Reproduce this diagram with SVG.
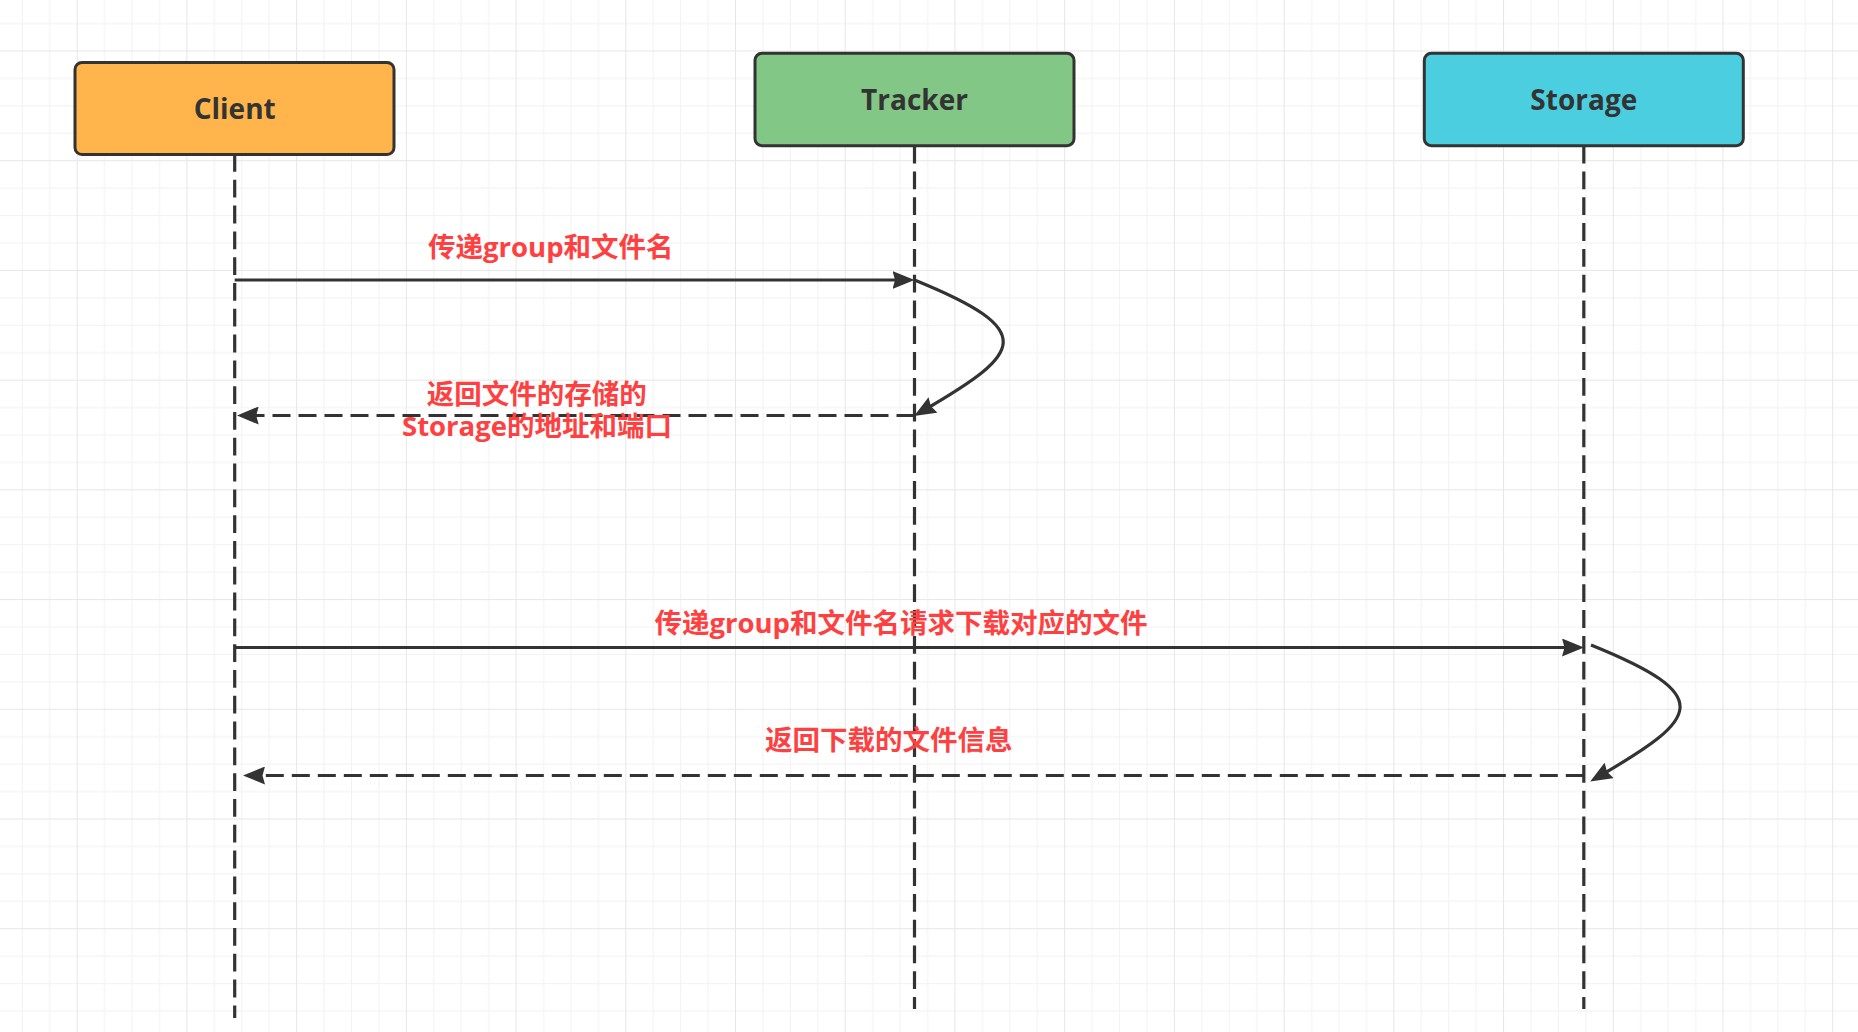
<svg xmlns="http://www.w3.org/2000/svg" width="1858" height="1032" viewBox="0 0 1858 1032">
<style>
.box{stroke:#333;stroke-width:3}
.ntext{font-family:"Open Sans","Noto Sans",sans-serif;font-weight:bold;font-size:28px;fill:#333;text-anchor:middle}
.life{stroke:#333;stroke-width:3.2;stroke-dasharray:17.8 8;fill:none}
.msg{stroke:#333;stroke-width:3.2;fill:none}
.dash{stroke-dasharray:18 8}
.lbl{font-family:"Open Sans","Noto Sans CJK SC",sans-serif;font-weight:bold;font-size:27.5px;fill:#FF4040;text-anchor:middle}
</style>
<defs>
<pattern id="grid" patternUnits="userSpaceOnUse" x="76.7" y="50.5" width="109.72" height="109.72">
<rect x="27.43" y="0" width="1" height="109.72" fill="#f2f2f2"/>
<rect x="54.86" y="0" width="1" height="109.72" fill="#f2f2f2"/>
<rect x="82.29" y="0" width="1" height="109.72" fill="#f2f2f2"/>
<rect x="0" y="27.43" width="109.72" height="1" fill="#f2f2f2"/>
<rect x="0" y="54.86" width="109.72" height="1" fill="#f2f2f2"/>
<rect x="0" y="82.29" width="109.72" height="1" fill="#f2f2f2"/>
<rect x="0" y="0" width="1" height="109.72" fill="#e6e6e6"/>
<rect x="0" y="0" width="109.72" height="1" fill="#e6e6e6"/>
</pattern>
<marker id="arr" markerUnits="userSpaceOnUse" markerWidth="22" markerHeight="18" refX="9" refY="9" orient="auto" viewBox="0 0 22 18">
<path d="M0,0 L22,9 L0,18 L2.5,9 Z" fill="#333"/>
</marker>
</defs>
<rect width="1858" height="1032" fill="#fff"/>
<rect width="1858" height="1032" fill="url(#grid)"/>

<g id="connectors">
<line class="life" x1="234.7" y1="154" x2="234.7" y2="1018"/>
<line class="life" x1="914.5" y1="145.7" x2="914.5" y2="1009"/>
<line class="life" x1="1583.8" y1="145.7" x2="1583.8" y2="1009"/>
<line class="msg" x1="234.7" y1="280" x2="901.5" y2="280" marker-end="url(#arr)"/>
<path class="msg" d="M914.5,280 C1040,331 1022,353 925.3,409.5" marker-end="url(#arr)"/>
<line class="msg dash" x1="914.5" y1="415.5" x2="249.7" y2="415.5" marker-end="url(#arr)"/>
<line class="msg" x1="234.7" y1="647.5" x2="1571" y2="647.5" marker-end="url(#arr)"/>
<path class="msg" d="M1591,645 C1717,696 1699,718 1601.4,775" marker-end="url(#arr)"/>
<line class="msg dash" x1="1583.8" y1="775.5" x2="256" y2="775.5" marker-end="url(#arr)"/>
<text class="lbl" x="550.8" y="257">传递group和文件名</text>
<text class="lbl" x="536.8" y="404">返回文件的存储的</text>
<text class="lbl" x="537" y="436">Storage的地址和端口</text>
<text class="lbl" x="901" y="633">传递group和文件名请求下载对应的文件</text>
<text class="lbl" x="888.8" y="750">返回下载的文件信息</text>
</g>

<g id="client">
<rect class="box" x="75" y="62.5" width="319" height="92" rx="7" fill="#FFB54B"/>
<text class="ntext" x="234.7" y="118.5">Client</text>
</g>
<g id="tracker">
<rect class="box" x="755" y="53.3" width="319" height="92.4" rx="7" fill="#82C785"/>
<text class="ntext" x="914.5" y="110">Tracker</text>
</g>
<g id="storage">
<rect class="box" x="1424.3" y="53.3" width="319" height="92.4" rx="7" fill="#4BCFE0"/>
<text class="ntext" x="1583.8" y="110">Storage</text>
</g>
</svg>
